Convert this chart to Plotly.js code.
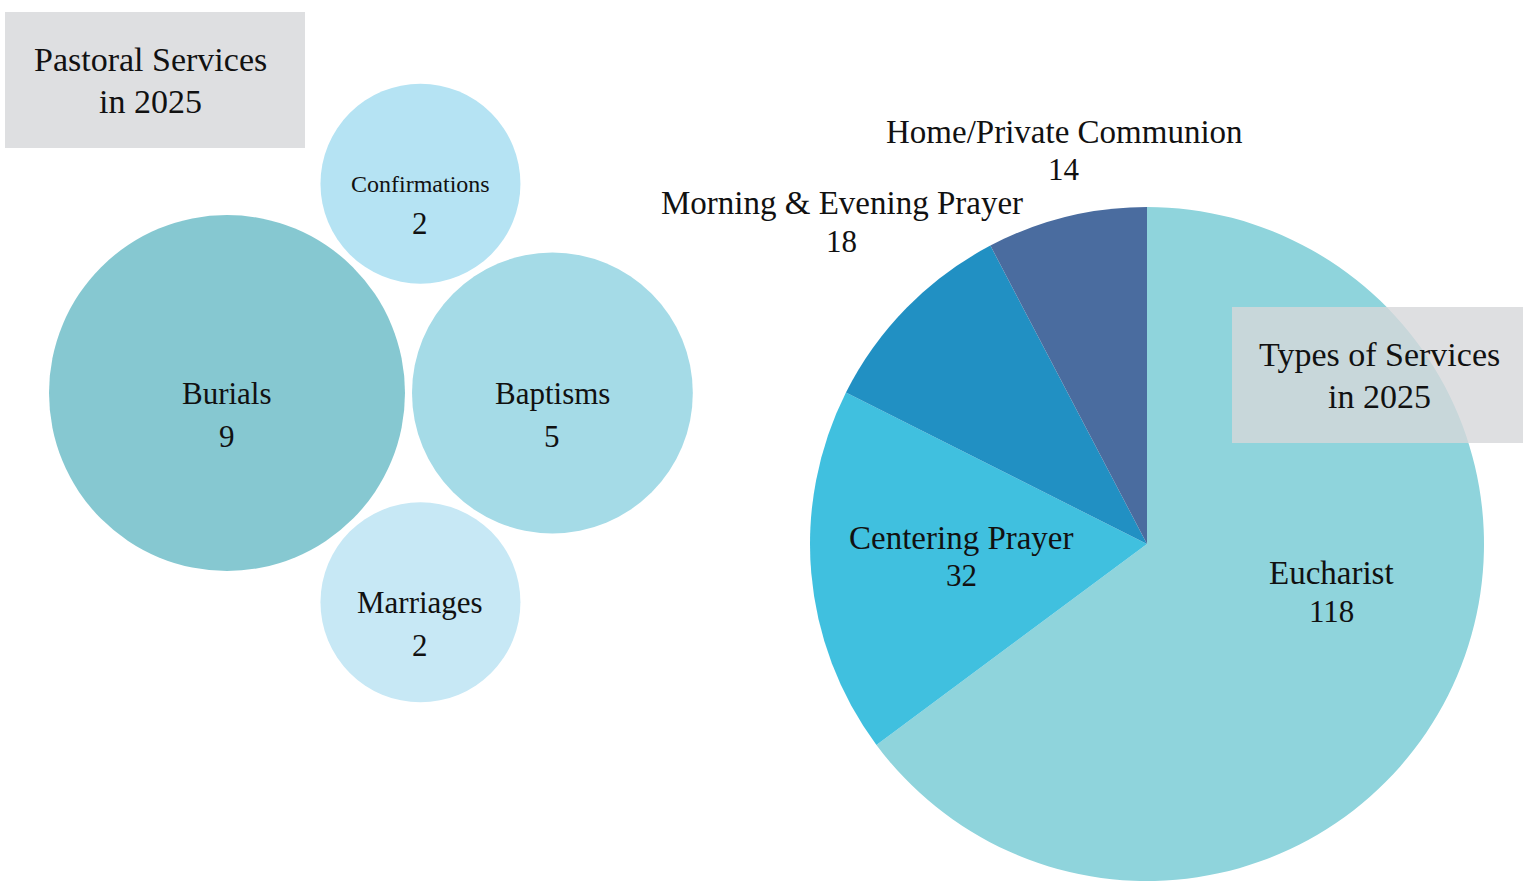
<!DOCTYPE html>
<html>
<head>
<meta charset="utf-8">
<script src="https://cdn.plot.ly/plotly-3.0.1.min.js"></script>
<style>
  html, body { margin: 0; padding: 0; background: #ffffff; }
  #chart { width: 1523px; height: 882px; }
</style>
</head>
<body>
<div id="chart"></div>
<script>
// ---------- DATA ----------
const pastoralCategories = ["Burials", "Baptisms", "Confirmations", "Marriages"];
const pastoralValues = [9, 5, 2, 2];
const pastoralColors = ["#86c8d1", "#a5dbe7", "#b5e3f3", "#c7e8f5"];

const serviceCategories = ["Eucharist", "Centering Prayer", "Morning & Evening Prayer", "Home/Private Communion"];
const serviceValues = [118, 32, 18, 14];
const serviceColors = ["#8fd4dc", "#40c0df", "#2190c3", "#4a6c9f"];

const pastoralTitle = ["Pastoral Services", "in 2025"];
const servicesTitle = ["Types of Services", "in 2025"];

// ---------- LAYOUT / STYLE ----------
const W = 1523, H = 882;
const FONT = "Liberation Serif, Times New Roman, serif";
const TEXT = "#111111";
// pie label placement: radius as fraction of pie radius, angular nudge (deg) from slice middle
const pieLabelStyle = {
  radius: [0.565, 0.553, 1.316, 1.193],
  nudge: [-12, 1, 2, 2]
};

// bubble radius scale (px) from value
const radius = v => 30.4 + 49.2 * Math.sqrt(v);
const r = pastoralValues.map(radius);
const gap = 7;

// pack: first bubble anchor, second to its right, third/fourth tangent to both (above/below)
const cx0 = 227, cy0 = 393;
const D = r[0] + r[1] + gap;
const pos = [[cx0, cy0], [cx0 + D, cy0]];
[2, 3].forEach((k, idx) => {
  const d0 = r[0] + r[k] + gap, d1 = r[1] + r[k] + gap;
  const a = (d0 * d0 - d1 * d1 + D * D) / (2 * D);
  const h = Math.sqrt(Math.max(0, d0 * d0 - a * a));
  pos.push([cx0 + a, idx === 0 ? cy0 - h : cy0 + h]);
});

const bubbleTrace = {
  type: "scatter",
  mode: "markers",
  x: pos.map(p => p[0]),
  y: pos.map(p => p[1]),
  text: pastoralCategories,
  customdata: pastoralValues,
  hovertemplate: "%{text}: %{customdata}<extra></extra>",
  marker: {
    size: r.map(v => 2 * v),
    sizemode: "diameter",
    color: pastoralColors,
    opacity: 1,
    line: { width: 0 }
  },
  xaxis: "x", yaxis: "y",
  showlegend: false
};

const pieDomain = { x: [810 / W, 1484 / W], y: [0, 676 / H] };
const pieTrace = {
  type: "pie",
  labels: serviceCategories,
  values: serviceValues,
  marker: { colors: serviceColors, line: { width: 0 } },
  sort: false,
  direction: "clockwise",
  rotation: 0,
  textinfo: "none",
  automargin: false,
  domain: pieDomain,
  showlegend: false,
  hoverinfo: "label+value"
};

const annotations = [];
pastoralCategories.forEach((c, i) => {
  const small = c.length > 10;
  annotations.push({
    xref: "x", yref: "y", x: pos[i][0], y: pos[i][1],
    text: c, showarrow: false,
    font: { family: FONT, size: small ? 24 : 31, color: TEXT },
    xanchor: "center", yanchor: "middle"
  });
  annotations.push({
    xref: "x", yref: "y", x: pos[i][0], y: pos[i][1],
    text: String(pastoralValues[i]), showarrow: false, yshift: small ? -40 : -43,
    font: { family: FONT, size: 31, color: TEXT },
    xanchor: "center", yanchor: "middle"
  });
});

// pie labels around slice mid-angles
const pcx = (pieDomain.x[0] + pieDomain.x[1]) / 2 * W;
const pcy = H - (pieDomain.y[0] + pieDomain.y[1]) / 2 * H;
const pR = Math.min((pieDomain.x[1] - pieDomain.x[0]) * W, (pieDomain.y[1] - pieDomain.y[0]) * H) / 2;
const total = serviceValues.reduce((a, b) => a + b, 0);
let cum = 0;
serviceCategories.forEach((c, i) => {
  const mid = (cum + serviceValues[i] / 2) / total * 2 * Math.PI + pieLabelStyle.nudge[i] * Math.PI / 180;
  cum += serviceValues[i];
  const f = pieLabelStyle.radius[i];
  const x = pcx + Math.sin(mid) * pR * f;
  const y = pcy - Math.cos(mid) * pR * f;
  annotations.push({
    xref: "x", yref: "y", x: x, y: y, yshift: 19,
    text: c, showarrow: false,
    font: { family: FONT, size: 33, color: TEXT },
    xanchor: "center", yanchor: "middle"
  });
  annotations.push({
    xref: "x", yref: "y", x: x, y: y, yshift: -19,
    text: String(serviceValues[i]), showarrow: false,
    font: { family: FONT, size: 31, color: TEXT },
    xanchor: "center", yanchor: "middle"
  });
});

// title boxes
const titleBoxes = [
  { lines: pastoralTitle, x0: 5, x1: 305, y0: 12, y1: 148, fill: "#dedfe1", tx: 150 },
  { lines: servicesTitle, x0: 1232, x1: 1523, y0: 307, y1: 443, fill: "rgba(214,215,218,0.8)", tx: 1379 }
];
const shapes = titleBoxes.map(b => ({
  type: "rect", xref: "x", yref: "y", x0: b.x0, x1: b.x1, y0: b.y0, y1: b.y1,
  fillcolor: b.fill, line: { width: 0 }, layer: "above"
}));
titleBoxes.forEach(b => {
  const cy = (b.y0 + b.y1) / 2;
  b.lines.forEach((t, j) => {
    annotations.push({
      xref: "x", yref: "y", x: b.tx, y: cy + (j === 0 ? -21 : 21),
      text: t, showarrow: false,
      font: { family: FONT, size: 34, color: TEXT },
      xanchor: "center", yanchor: "middle"
    });
  });
});

const layout = {
  width: W, height: H,
  margin: { l: 0, r: 0, t: 0, b: 0 },
  paper_bgcolor: "#ffffff",
  plot_bgcolor: "rgba(0,0,0,0)",
  xaxis: { domain: [0, 1], range: [0, W], visible: false, fixedrange: true },
  yaxis: { domain: [0, 1], range: [H, 0], visible: false, fixedrange: true },
  annotations: annotations,
  shapes: shapes,
  font: { family: FONT }
};

Plotly.newPlot("chart", [pieTrace, bubbleTrace], layout, { displayModeBar: false });
</script>
</body>
</html>
